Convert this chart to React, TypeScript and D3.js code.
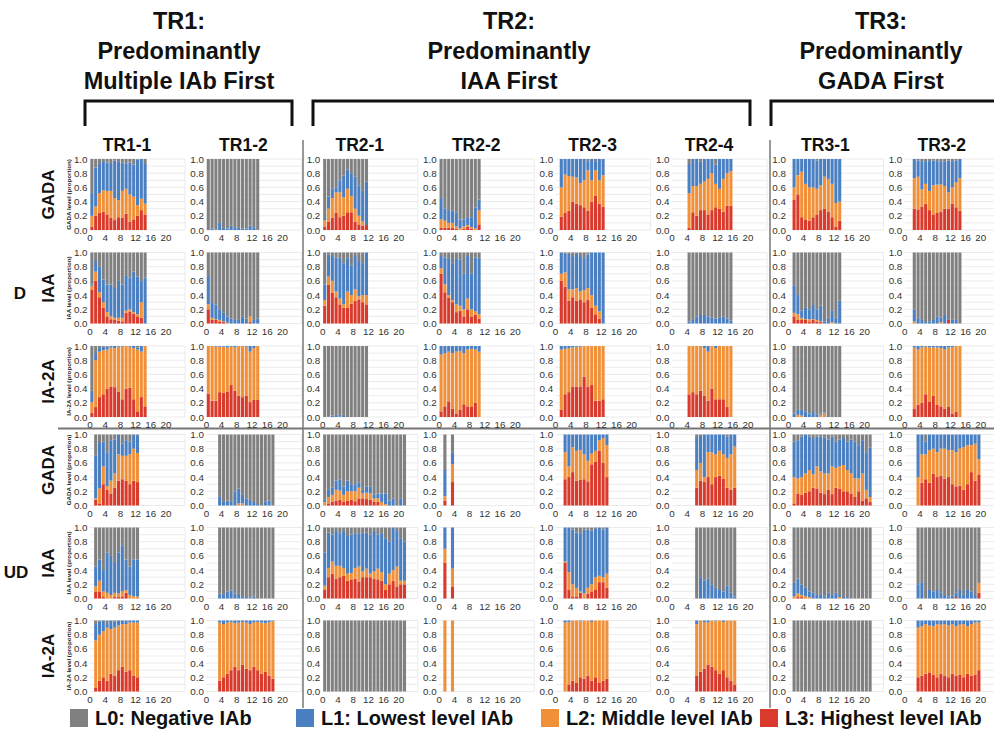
import React from "react";
import * as d3 from "d3";

// ---------- labels ----------
const GROUP_TITLES = [
  ["TR1:", "Predominantly", "Multiple IAb First"],
  ["TR2:", "Predominantly", "IAA First"],
  ["TR3:", "Predominantly", "GADA First"],
];
const COLS = ["TR1-1", "TR1-2", "TR2-1", "TR2-2", "TR2-3", "TR2-4", "TR3-1", "TR3-2"];
const ROW_NAMES = ["GADA", "IAA", "IA-2A", "GADA", "IAA", "IA-2A"];
const GROUPS = ["D", "UD"];
const LEVEL_LABELS = ["L0: Negative IAb", "L1: Lowest level IAb", "L2: Middle level IAb", "L3: Highest level IAb"];
const LEVEL_COLORS = ["#808080", "#4a7fc1", "#f0913a", "#d93a2b"];
const Y_TICKS = [0, 0.2, 0.4, 0.6, 0.8, 1.0];
const X_TICKS = [0, 4, 8, 12, 16, 20];

// ---------- data ----------
// each panel: time points (bar covers [t-1, t]) and cumulative tops of L3, L3+L2, L3+L2+L1
type Panel = { times: number[]; l3: number[]; l32: number[]; l321: number[] };
const span = (a: number, b: number) => d3.range(a + 1, b + 1);
function panel(times: number[], l3?: number[], l32?: number[], l321?: number[]): Panel {
  const z = times.map(() => 0);
  const a = l3 || z;
  const b = l32 || a;
  const c = l321 || b;
  return { times, l3: a, l32: b, l321: c };
}
const ones = (n: number) => d3.range(n).map(() => 1);

const D_GADA: Panel[] = [
  panel(span(0, 15),
    [0.05, 0.2, 0.24, 0.26, 0.22, 0.17, 0.14, 0.18, 0.17, 0.23, 0.12, 0.15, 0.2, 0.28, 0.22],
    [0.2, 0.33, 0.52, 0.56, 0.55, 0.55, 0.45, 0.42, 0.55, 0.58, 0.5, 0.47, 0.35, 0.44, 0.37],
    [0.52, 0.88, 0.93, 0.97, 0.95, 0.93, 0.98, 0.96, 0.95, 0.94, 0.95, 0.92, 0.99, 1, 0.93]),
  panel(span(0, 14), undefined, undefined,
    [0, 0.02, 0.01, 0.1, 0.03, 0.02, 0.06, 0.04, 0.03, 0.02, 0.02, 0.06, 0.04, 0.01]),
  panel(span(0, 12),
    [0.05, 0.12, 0.17, 0.24, 0.18, 0.2, 0.25, 0.25, 0.12, 0.08, 0.06, 0.07],
    [0.14, 0.3, 0.45, 0.53, 0.53, 0.46, 0.58, 0.48, 0.3, 0.2, 0.12, 0.07],
    [0.17, 0.47, 0.58, 0.6, 0.7, 0.77, 0.85, 0.8, 0.75, 0.63, 0.55, 0.68]),
  panel(span(0, 11),
    [0.03, 0.03, 0.03, 0.03, 0.02, 0, 0.02, 0.05, 0.02, 0, 0.08],
    [0.15, 0.13, 0.1, 0.1, 0.05, 0.02, 0.05, 0.07, 0.04, 0.02, 0.28],
    [0.45, 0.3, 0.28, 0.27, 0.25, 0.15, 0.15, 0.18, 0.18, 0.32, 0.43]),
  panel(span(1, 13),
    [0.19, 0.24, 0.27, 0.4, 0.37, 0.35, 0.32, 0.27, 0.4, 0.48, 0.37, 0.33],
    [0.6, 0.78, 0.76, 0.75, 0.74, 0.66, 0.7, 0.84, 0.7, 0.84, 0.7, 0.77],
    [1, 1, 1, 1, 1, 1, 1, 0.97, 1, 0.97, 1, 1]),
  panel(span(4, 16),
    [0.03, 0.25, 0.2, 0.28, 0.28, 0.22, 0.28, 0.32, 0.3, 0.26, 0.34, 0.34],
    [0.52, 0.62, 0.62, 0.65, 0.68, 0.72, 0.8, 0.65, 0.58, 0.72, 0.8, 0.83],
    [0.93, 1, 1, 0.96, 1, 1, 1, 0.92, 1, 1, 1, 1]),
  panel(span(1, 14),
    [0.43, 0.5, 0.18, 0.15, 0.13, 0.18, 0.22, 0.28, 0.3, 0.26, 0.18, 0.05, 0.13],
    [0.6, 0.77, 0.82, 0.65, 0.6, 0.6, 0.58, 0.63, 0.75, 0.72, 0.65, 0.38, 0.4],
    [1, 1, 1, 1, 1, 1, 0.98, 1, 1, 1, 1, 1, 1]),
  panel(span(2, 15),
    [0.3, 0.29, 0.33, 0.37, 0.28, 0.22, 0.24, 0.26, 0.3, 0.3, 0.37, 0.32, 0.27],
    [0.73, 0.75, 0.57, 0.65, 0.55, 0.63, 0.64, 0.64, 0.62, 0.53, 0.6, 0.67, 0.73],
    [1, 0.98, 0.97, 0.97, 0.97, 0.98, 0.97, 0.97, 0.96, 0.98, 0.97, 0.98, 1]),
];

const D_IAA: Panel[] = [
  panel(span(0, 15),
    [0.48, 0.6, 0.37, 0.22, 0.1, 0.06, 0.05, 0.04, 0.03, 0.15, 0.17, 0.14, 0.1, 0.08, 0],
    [0.53, 0.73, 0.44, 0.3, 0.16, 0.1, 0.08, 0.08, 0.08, 0.18, 0.2, 0.16, 0.13, 0.3, 0],
    [0.55, 0.88, 0.8, 0.62, 0.55, 0.55, 0.5, 0.6, 0.55, 0.67, 0.65, 0.73, 0.66, 0.6, 0.65]),
  panel(span(0, 14),
    [0.2, 0.05, 0.05, 0.03, 0.02, 0, 0, 0, 0, 0, 0, 0.02, 0, 0],
    [0.27, 0.08, 0.06, 0.05, 0.03, 0.01, 0, 0, 0, 0, 0, 0.1, 0, 0],
    [0.67, 0.3, 0.27, 0.2, 0.15, 0.1, 0.07, 0.05, 0.05, 0.1, 0.07, 0.1, 0.05, 0.07]),
  panel(span(0, 12),
    [0.25, 0.55, 0.43, 0.37, 0.27, 0.22, 0.22, 0.28, 0.32, 0.34, 0.3, 0.27],
    [0.33, 0.66, 0.6, 0.45, 0.35, 0.27, 0.45, 0.4, 0.48, 0.38, 0.4, 0.4],
    [0.55, 0.97, 0.95, 0.93, 0.92, 0.85, 0.92, 0.82, 0.95, 0.88, 0.85, 1]),
  panel(span(0, 11),
    [0.7, 0.44, 0.36, 0.3, 0.16, 0.18, 0.1, 0.2, 0.1, 0.12, 0.07],
    [0.78, 0.55, 0.4, 0.33, 0.27, 0.25, 0.2, 0.35, 0.2, 0.17, 0.13],
    [0.95, 0.93, 0.92, 0.85, 0.92, 0.9, 0.7, 0.95, 0.7, 0.93, 0.92]),
  panel(span(1, 13),
    [0.6, 0.52, 0.32, 0.37, 0.32, 0.34, 0.3, 0.33, 0.22, 0.13, 0.07, 0],
    [0.7, 0.72, 0.48, 0.48, 0.5, 0.45, 0.47, 0.5, 0.4, 0.25, 0.17, 0],
    [1, 0.98, 0.98, 0.95, 0.98, 0.95, 0.92, 0.97, 1, 1, 1, 1]),
  panel(span(4, 16), undefined, undefined,
    [0.03, 0.05, 0.1, 0.12, 0.12, 0.1, 0.08, 0.07, 0.08, 0.1, 0.07, 0.04]),
  panel(span(1, 14),
    [0.1, 0.05, 0.05, 0.05, 0.02, 0.05, 0.03, 0.02, 0, 0, 0, 0, 0],
    [0.15, 0.13, 0.08, 0.06, 0.06, 0.06, 0.05, 0.03, 0, 0, 0.02, 0, 0],
    [0.54, 0.4, 0.18, 0.22, 0.2, 0.26, 0.2, 0.25, 0.03, 0.08, 0.18, 0.08, 0.32]),
  panel(span(2, 15),
    [0, 0, 0, 0, 0, 0, 0, 0, 0, 0.05, 0, 0, 0],
    [0.03, 0, 0, 0, 0, 0, 0, 0.02, 0, 0.05, 0, 0, 0],
    [0.2, 0.08, 0.05, 0.02, 0.03, 0.05, 0.1, 0.08, 0.12, 0.05, 0.06, 0.05, 0]),
];

const D_IA2A: Panel[] = [
  panel(span(0, 15),
    [0.06, 0.14, 0.28, 0.32, 0.4, 0.43, 0.42, 0.36, 0.25, 0.4, 0.41, 0.25, 0.08, 0.28, 0.15],
    [0.21, 0.8, 0.92, 0.94, 0.95, 0.97, 0.97, 0.99, 0.99, 1, 0.99, 0.97, 0.95, 0.92, 1],
    [0.37, 0.9, 0.97, 0.99, 0.99, 0.98, 1, 1, 1, 1, 1, 1, 0.98, 1, 1]),
  panel(span(0, 14),
    [0.33, 0.23, 0.23, 0.35, 0.34, 0.36, 0.45, 0.37, 0.3, 0.28, 0.3, 0.21, 0.24, 0.24],
    [1, 1, 0.99, 0.99, 0.99, 0.98, 0.99, 0.98, 1, 1, 0.99, 0.92, 0.97, 1],
    ones(14)),
  panel(span(0, 12), undefined, undefined,
    [0, 0.01, 0.02, 0.03, 0.01, 0.03, 0, 0, 0, 0, 0, 0]),
  panel(span(0, 11),
    [0.08, 0.15, 0.22, 0.12, 0.05, 0.1, 0.18, 0.15, 0.15, 0.2, 0],
    [0.88, 0.9, 0.92, 0.9, 0.92, 0.93, 0.9, 0.95, 0.96, 0.95, 0.92],
    ones(11)),
  panel(span(1, 13),
    [0.1, 0.32, 0.35, 0.43, 0.43, 0.43, 0.57, 0.43, 0.45, 0.23, 0.23, 0.25],
    [0.95, 0.96, 0.97, 0.98, 0.99, 0.99, 1, 1, 1, 1, 1, 1],
    ones(12)),
  panel(span(4, 16),
    [0.32, 0.35, 0.32, 0.37, 0.3, 0.23, 0.4, 0.25, 0.25, 0.25, 0.14, 0],
    [1, 1, 1, 1, 0.97, 0.92, 1, 0.97, 1, 1, 1, 1],
    ones(12)),
  panel(span(1, 14), undefined,
    [0, 0.03, 0.02, 0, 0, 0, 0, 0.03, 0.05, 0, 0, 0, 0],
    [0.05, 0.1, 0.1, 0.08, 0.05, 0.07, 0.03, 0.05, 0.06, 0, 0, 0, 0]),
  panel(span(2, 15),
    [0.12, 0.17, 0.2, 0.32, 0.22, 0.3, 0.17, 0.15, 0.12, 0.15, 0.05, 0.07, 0],
    [0.98, 0.95, 0.98, 0.99, 0.98, 0.98, 0.98, 0.97, 0.95, 0.98, 0.98, 1, 1],
    ones(13)),
];

const UD_GADA: Panel[] = [
  panel(span(1, 13),
    [0.08, 0.03, 0.3, 0.22, 0.17, 0.25, 0.35, 0.37, 0.35, 0.3, 0.35, 0.33],
    [0.1, 0.24, 0.55, 0.27, 0.35, 0.45, 0.72, 0.7, 0.7, 0.72, 0.8, 0.74],
    [0.7, 0.88, 0.9, 0.75, 0.92, 0.93, 1, 0.87, 0.92, 0.9, 1, 0.98]),
  panel(span(3, 18), undefined,
    [0, 0, 0, 0, 0, 0.03, 0.03, 0, 0, 0, 0, 0, 0, 0, 0],
    [0.12, 0.05, 0.07, 0.05, 0.2, 0.24, 0.15, 0.1, 0.08, 0.05, 0.02, 0, 0.06, 0.07, 0]),
  panel(span(0, 22),
    [0, 0.03, 0.05, 0.07, 0.08, 0.05, 0.07, 0.08, 0.06, 0.1, 0.1, 0.09, 0.08, 0.05, 0.05, 0, 0, 0, 0, 0, 0, 0],
    [0.05, 0.12, 0.15, 0.22, 0.21, 0.15, 0.2, 0.2, 0.2, 0.25, 0.17, 0.18, 0.17, 0.1, 0.1, 0.05, 0.02, 0, 0, 0, 0, 0],
    [0.08, 0.22, 0.25, 0.35, 0.37, 0.27, 0.35, 0.3, 0.3, 0.32, 0.22, 0.27, 0.27, 0.15, 0.17, 0.17, 0.17, 0.07, 0.1, 0, 0.1, 0]),
  panel([2, 4], [0.07, 0.33], [0.13, 0.58], [0.5, 0.75]),
  panel(span(2, 14),
    [0.37, 0.4, 0.47, 0.35, 0.36, 0.37, 0.34, 0.58, 0.62, 0.77, 0.6, 0.4],
    [0.75, 0.55, 0.82, 0.77, 0.78, 0.72, 0.63, 0.73, 0.77, 0.92, 0.95, 0.85],
    ones(12)),
  panel(span(6, 17),
    [0.25, 0.35, 0.33, 0.4, 0.3, 0.4, 0.42, 0.38, 0.25, 0.22, 0.25],
    [0.5, 0.6, 0.4, 0.75, 0.75, 0.72, 0.77, 0.72, 0.67, 0.72, 0.83],
    [0.95, 0.98, 1, 1, 1, 1, 1, 1, 0.97, 1, 1]),
  panel(span(1, 22),
    [0.03, 0.17, 0.15, 0.18, 0.2, 0.25, 0.24, 0.18, 0.16, 0.22, 0.16, 0.25, 0.24, 0.2, 0.2, 0.17, 0.12, 0.2, 0.07, 0.1, 0.05],
    [0.4, 0.38, 0.4, 0.45, 0.5, 0.44, 0.55, 0.48, 0.45, 0.45, 0.55, 0.53, 0.55, 0.57, 0.5, 0.45, 0.38, 0.38, 0.45, 0.22, 0.12],
    [0.9, 0.92, 0.97, 1, 0.97, 0.95, 0.97, 0.97, 0.96, 0.93, 0.97, 0.9, 0.93, 0.95, 0.9, 0.93, 0.9, 0.85, 0.92, 0.75, 0.82]),
  panel(span(3, 20),
    [0, 0.32, 0.37, 0.32, 0.45, 0.4, 0.42, 0.38, 0.4, 0.3, 0.27, 0.28, 0.22, 0.3, 0.47, 0.35, 0.43],
    [0.4, 0.72, 0.72, 0.78, 0.8, 0.75, 0.8, 0.8, 0.78, 0.78, 0.75, 0.8, 0.82, 0.85, 0.85, 0.87, 0.65],
    [1, 1, 0.9, 1, 1, 1, 1, 1, 1, 1, 1, 1, 1, 1, 1, 1, 1]),
];

const UD_IAA: Panel[] = [
  panel(span(1, 13),
    [0.1, 0.1, 0.02, 0, 0, 0.02, 0.02, 0.03, 0.08, 0, 0, 0],
    [0.17, 0.25, 0.1, 0.08, 0.05, 0.08, 0.07, 0.1, 0.12, 0.05, 0.03, 0.03],
    [0.45, 0.55, 0.4, 0.65, 0.6, 0.5, 0.65, 0.75, 0.55, 0.45, 0.55, 0.55]),
  panel(span(3, 18), undefined, undefined,
    [0.07, 0.05, 0.1, 0.11, 0.07, 0.05, 0.02, 0.02, 0.01, 0.03, 0, 0, 0, 0, 0]),
  panel(span(0, 22),
    [0.12, 0.3, 0.35, 0.28, 0.3, 0.32, 0.25, 0.27, 0.28, 0.24, 0.3, 0.3, 0.3, 0.28, 0.27, 0.25, 0.12, 0.2, 0.25, 0.17, 0.2, 0.2],
    [0.18, 0.43, 0.52, 0.46, 0.46, 0.43, 0.35, 0.36, 0.43, 0.45, 0.38, 0.42, 0.35, 0.38, 0.42, 0.37, 0.2, 0.35, 0.4, 0.45, 0.25, 0.25],
    [0.65, 0.93, 0.9, 0.95, 0.92, 0.95, 0.88, 0.9, 0.92, 0.91, 0.92, 0.93, 0.9, 0.95, 0.9, 0.92, 0.85, 0.8, 1, 0.95, 0.85, 0.8]),
  panel([2, 4], [0.5, 0.17], [0.7, 0.42], [1, 1]),
  panel(span(2, 14),
    [0.5, 0.12, 0.03, 0.03, 0.08, 0, 0.07, 0.1, 0.12, 0.23, 0.23, 0.15],
    [0.52, 0.37, 0.2, 0.15, 0.1, 0.07, 0.15, 0.2, 0.3, 0.32, 0.3, 0.35],
    [1, 1, 0.97, 0.93, 0.92, 0.97, 0.97, 0.96, 0.98, 1, 0.97, 1]),
  panel(span(6, 17), undefined, undefined,
    [0, 0.3, 0.25, 0.28, 0.2, 0.15, 0.12, 0.1, 0.18, 0.08, 0.03]),
  panel(span(1, 22),
    [0, 0.02, 0.02, 0, 0, 0, 0, 0, 0, 0, 0, 0, 0, 0, 0, 0, 0, 0, 0, 0, 0],
    [0.03, 0.07, 0.05, 0.03, 0.02, 0, 0, 0, 0, 0, 0, 0, 0.02, 0, 0, 0, 0, 0, 0, 0, 0],
    [0.22, 0.28, 0.2, 0.15, 0.1, 0.08, 0.05, 0.05, 0.03, 0.08, 0.05, 0.08, 0.05, 0.02, 0.02, 0, 0, 0, 0, 0, 0]),
  panel(span(3, 20),
    [0, 0, 0, 0, 0, 0, 0, 0, 0, 0, 0.02, 0, 0, 0, 0, 0, 0.08],
    [0, 0, 0, 0, 0, 0, 0, 0, 0, 0, 0.02, 0, 0, 0, 0, 0, 0.22],
    [0.2, 0.23, 0, 0.12, 0.1, 0.12, 0.08, 0.05, 0.03, 0.04, 0.08, 0.12, 0.05, 0.12, 0.1, 0.05, 0.22]),
];

const UD_IA2A: Panel[] = [
  panel(span(1, 13),
    [0.05, 0.15, 0.2, 0.15, 0.25, 0.22, 0.3, 0.35, 0.28, 0.3, 0.22, 0.2],
    [0.72, 0.8, 0.85, 0.9, 0.88, 0.9, 0.93, 0.95, 0.95, 0.97, 0.97, 0.97],
    [0.95, 0.98, 1, 0.95, 1, 0.98, 1, 1, 1, 1, 1, 1]),
  panel(span(3, 18),
    [0.15, 0.2, 0.25, 0.3, 0.35, 0.3, 0.38, 0.32, 0.3, 0.35, 0.3, 0.25, 0.28, 0.22, 0.18],
    [0.97, 0.95, 0.97, 0.98, 0.96, 0.97, 0.98, 0.97, 0.95, 0.97, 0.98, 0.97, 0.96, 0.98, 0.99],
    ones(15)),
  panel(span(0, 22)),
  panel([2, 4], [0, 0], [1, 1], [1, 1]),
  panel(span(2, 14),
    [0, 0.1, 0.15, 0.12, 0.2, 0.18, 0.22, 0.15, 0.2, 0.12, 0.15, 0.18],
    [0.97, 0.98, 1, 1, 0.99, 1, 1, 0.98, 1, 1, 1, 1],
    ones(12)),
  panel(span(6, 17),
    [0.22, 0.28, 0.32, 0.38, 0.35, 0.3, 0.25, 0.3, 0.2, 0.15, 0.1],
    [0.95, 1, 0.98, 0.97, 1, 0.99, 1, 0.98, 1, 1, 1],
    ones(11)),
  panel(span(1, 22)),
  panel(span(3, 20),
    [0.2, 0.22, 0.25, 0.27, 0.24, 0.2, 0.25, 0.22, 0.2, 0.25, 0.22, 0.24, 0.2, 0.25, 0.22, 0.24, 0.3],
    [0.9, 0.92, 0.95, 0.93, 0.92, 0.95, 0.94, 0.95, 0.93, 0.95, 0.92, 0.94, 0.95, 0.92, 0.95, 0.97, 0.97],
    ones(17)),
];

const ROW_DATA = [D_GADA, D_IAA, D_IA2A, UD_GADA, UD_IAA, UD_IA2A];

// ---------- layout ----------
const W = 994;
const H = 732;
const PANEL_W = 95;
const PANEL_H = 71;
const COL_X = COLS.map((_, i) => 90 + i * 116.4);
const ROW_Y = [159, 252.5, 346, 434.5, 527.5, 620.5];
const FONT = "'Liberation Sans', Arial, Helvetica, sans-serif";
const KEYS = ["L3", "L2", "L1", "L0"];
const KEY_COLOR: Record<string, string> = {
  L0: LEVEL_COLORS[0], L1: LEVEL_COLORS[1], L2: LEVEL_COLORS[2], L3: LEVEL_COLORS[3],
};

function PanelChart({ data, x0, y0, yTitle }: { data: Panel; x0: number; y0: number; yTitle?: string }) {
  const x = d3.scaleLinear().domain([0, 25]).range([x0, x0 + PANEL_W]);
  const y = d3.scaleLinear().domain([0, 1]).range([y0 + PANEL_H, y0]);
  const rows = data.times.map((t, i) => ({
    t,
    L3: data.l3[i],
    L2: Math.max(0, data.l32[i] - data.l3[i]),
    L1: Math.max(0, data.l321[i] - data.l32[i]),
    L0: Math.max(0, 1 - data.l321[i]),
  }));
  const series = d3.stack<any>().keys(KEYS)(rows as any);
  const grid = d3.range(0, 11).map((d) => d / 10);
  return (
    <g>
      {grid.map((g) => (
        <line key={g} x1={x(0)} x2={x(25)} y1={y(g)} y2={y(g)} stroke="#e6e6e6" strokeWidth={0.8} />
      ))}
      <line x1={x(25)} x2={x(25)} y1={y(0)} y2={y(1)} stroke="#e6e6e6" strokeWidth={0.8} />
      {series.map((s) => (
        <g key={s.key} fill={KEY_COLOR[s.key]}>
          {s.map((d: any, i: number) => {
            const h = y(d[0]) - y(d[1]);
            if (h <= 0.01) return null;
            return (
              <rect key={i} x={x(d.data.t - 1) + 0.35} width={x(1) - x(0) - 0.7} y={y(d[1])} height={h} />
            );
          })}
        </g>
      ))}
      {Y_TICKS.map((t) => (
        <text key={t} x={x0 - 2.5} y={y(t)} dy="0.36em" textAnchor="end" fontSize={9.8} fill="#333">
          {t.toFixed(1)}
        </text>
      ))}
      {X_TICKS.map((t) => (
        <text key={t} x={x(t)} y={y(0) + 11} textAnchor="middle" fontSize={9.8} fill="#333">
          {t}
        </text>
      ))}
      {yTitle && (
        <text transform={`translate(${x0 - 19.5},${y0 + PANEL_H / 2}) rotate(-90)`} textAnchor="middle"
          fontSize={6.2} fontWeight="bold" fill="#222">
          {yTitle}
        </text>
      )}
    </g>
  );
}

export default function App() {
  const titleCenters = [179, 509, 881];
  const brackets = [[85, 292], [313, 750], [771, 1000]];
  const legendX = [70, 296, 541, 760];
  return (
    <svg width={W} height={H} style={{ position: "absolute", left: 0, top: 0, background: "#fff" }}
      fontFamily={FONT}>
      <rect width={W} height={H} fill="#fff" />
      {GROUP_TITLES.map((lines, gi) => (
        <g key={gi}>
          {lines.map((l, li) => (
            <text key={li} x={titleCenters[gi]} y={28.5 + li * 30} textAnchor="middle" fontSize={23.5}
              fontWeight="bold" fill="#111">
              {l}
            </text>
          ))}
          <path
            d={`M${brackets[gi][0]},126 V101 H${brackets[gi][1]} V126`}
            fill="none" stroke="#111" strokeWidth={3}
          />
        </g>
      ))}
      {COLS.map((c, i) => (
        <text key={c} x={COL_X[i] + 37} y={151} textAnchor="middle" fontSize={17.5} fontWeight="bold" fill="#111">
          {c}
        </text>
      ))}
      {/* separators */}
      <line x1={303} x2={303} y1={140} y2={708} stroke="#777" strokeWidth={1.5} />
      <line x1={770} x2={770} y1={140} y2={708} stroke="#777" strokeWidth={1.5} />
      <line x1={58} x2={994} y1={428.5} y2={428.5} stroke="#777" strokeWidth={2} />
      {ROW_DATA.map((row, ri) =>
        row.map((p, ci) => (
          <PanelChart key={`${ri}-${ci}`} data={p} x0={COL_X[ci]} y0={ROW_Y[ri]}
            yTitle={ci === 0 ? `${ROW_NAMES[ri]} level (proportion)` : undefined} />
        ))
      )}
      {ROW_NAMES.map((r, ri) => (
        <text key={ri} transform={`translate(54,${ROW_Y[ri] + PANEL_H / 2}) rotate(-90)`} textAnchor="middle"
          fontSize={17} fontWeight="bold" fill="#111">
          {r}
        </text>
      ))}
      <text x={20} y={299} textAnchor="middle" fontSize={17} fontWeight="bold" fill="#111">{GROUPS[0]}</text>
      <text x={16} y={578} textAnchor="middle" fontSize={17} fontWeight="bold" fill="#111">{GROUPS[1]}</text>
      {LEVEL_LABELS.map((l, i) => (
        <g key={l}>
          <rect x={legendX[i]} y={709} width={18} height={18} fill={LEVEL_COLORS[i]} />
          <text x={legendX[i] + 25} y={725} fontSize={20} fontWeight="bold" fill="#111">{l}</text>
        </g>
      ))}
    </svg>
  );
}
